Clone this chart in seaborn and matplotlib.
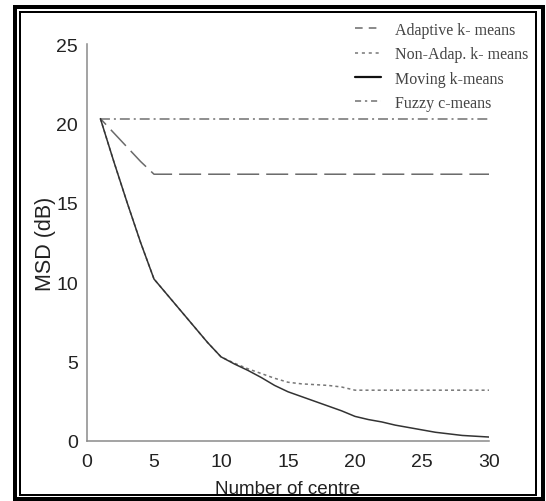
import matplotlib
matplotlib.use("Agg")
import matplotlib.pyplot as plt
from matplotlib.patches import Rectangle
from matplotlib.lines import Line2D
import seaborn as sns
import pandas as pd

# ---- data ----
centres = list(range(1, 31))
moving = [20.3, 17.6, 15.0, 12.5, 10.2, 9.2, 8.2, 7.2, 6.2, 5.3,
          4.85, 4.45, 4.0, 3.5, 3.1, 2.8, 2.5, 2.2, 1.9, 1.55,
          1.35, 1.2, 1.0, 0.85, 0.7, 0.55, 0.45, 0.35, 0.3, 0.25]
non_adap = [20.3, 17.6, 15.0, 12.5, 10.2, 9.2, 8.2, 7.2, 6.2, 5.3,
            4.9, 4.55, 4.25, 3.95, 3.7, 3.6, 3.55, 3.5, 3.4, 3.2,
            3.2, 3.2, 3.2, 3.2, 3.2, 3.2, 3.2, 3.2, 3.2, 3.2]
adaptive = [20.3, 19.4, 18.5, 17.6, 16.8] + [16.8] * 25
fuzzy = [20.3] * 30
series_names = ["Adaptive k- means", "Non-Adap. k- means", "Moving k-means", "Fuzzy c-means"]
xticks = [0, 5, 10, 15, 20, 25, 30]
yticks = [0, 5, 10, 15, 20, 25]

sns.set_theme(style="white")
plt.rcParams["font.family"] = ["Liberation Sans", "DejaVu Sans"]

W, H = 546, 502
fig = plt.figure(figsize=(W / 100, H / 100), dpi=100)
fig.patch.set_facecolor("white")
ax = fig.add_axes([87 / W, 1 - 442 / H, (489 - 87) / W, (442 - 45) / H])

lw = 1.1
styles = {
    "Adaptive k- means": dict(color="#6a6a6a", ls=(9, (14.4, 4.6))),
    "Non-Adap. k- means": dict(color="#777777", ls=(0, (2.0, 2.0))),
    "Moving k-means": dict(color="#333333", ls="-"),
    "Fuzzy c-means": dict(color="#707070", ls=(0, (6.5, 2.6, 1.3, 2.6))),
}
legend_ls = {
    "Adaptive k- means": (0, (5, 4)),
    "Non-Adap. k- means": (0, (2.0, 2.5)),
    "Moving k-means": "-",
    "Fuzzy c-means": (0, (4, 2.5, 1.5, 2.5)),
}
values = {
    "Adaptive k- means": adaptive,
    "Non-Adap. k- means": non_adap,
    "Moving k-means": moving,
    "Fuzzy c-means": fuzzy,
}
for name in ["Fuzzy c-means", "Adaptive k- means", "Non-Adap. k- means", "Moving k-means"]:
    df = pd.DataFrame({"x": centres, "y": values[name]})
    sns.lineplot(data=df, x="x", y="y", ax=ax, color=styles[name]["color"],
                 linestyle=styles[name]["ls"], linewidth=lw, legend=False)

ax.set_xlim(0, 30)
ax.set_ylim(0, 25)
ax.set_xticks(xticks)
ax.set_yticks(yticks)
ax.set_xticklabels([str(t) for t in xticks])
ax.set_yticklabels([str(t) for t in yticks])
for s in ["top", "right"]:
    ax.spines[s].set_visible(False)
for s in ["left", "bottom"]:
    ax.spines[s].set_color("#8a8a8a")
    ax.spines[s].set_linewidth(1.1)
ax.tick_params(direction="in", length=4, width=1.0, color="#8a8a8a",
               labelsize=14, labelcolor="#222222")
ax.tick_params(axis="x", pad=8.8)
ax.tick_params(axis="y", pad=6.5)

ax.set_xlabel("Number of centre", fontsize=13.6, color="#222222")
ax.xaxis.label.set_va("baseline")
ax.xaxis.set_label_coords(0.5, -(494 - 442) / 397)
ax.set_ylabel("MSD (dB)", fontsize=15.5, color="#222222")
ax.yaxis.label.set_va("center")
ax.yaxis.set_label_coords(-42 / 402, 0.5)

handles = [Line2D([], [], color=styles[n]["color"], linestyle=legend_ls[n],
                  linewidth=(1.6 if n == "Moving k-means" else lw)) for n in series_names]
handles[2].set_color("#111111")
leg = fig.legend(handles, series_names, loc="upper left",
                 bbox_to_anchor=(355 / W, 1 - 23 / H), bbox_transform=fig.transFigure,
                 frameon=False, borderpad=0, borderaxespad=0,
                 handlelength=1.6, handletextpad=0.9, labelspacing=0.52,
                 prop={"family": ["Liberation Serif", "DejaVu Serif"], "size": 11.5})
for t in leg.get_texts():
    t.set_color("#444444")

# double frame around figure
def frame(l, t, r, b, lwpx):
    rect = Rectangle((l / W, 1 - b / H), (r - l) / W, (b - t) / H,
                     transform=fig.transFigure, fill=False, edgecolor="black",
                     linewidth=lwpx * 0.72, zorder=10)
    fig.add_artist(rect)

frame(15, 8, 542.5, 499.5, 4)
frame(20, 13, 536, 495.5, 2)

fig.savefig("out.png", dpi=100, facecolor="white")
